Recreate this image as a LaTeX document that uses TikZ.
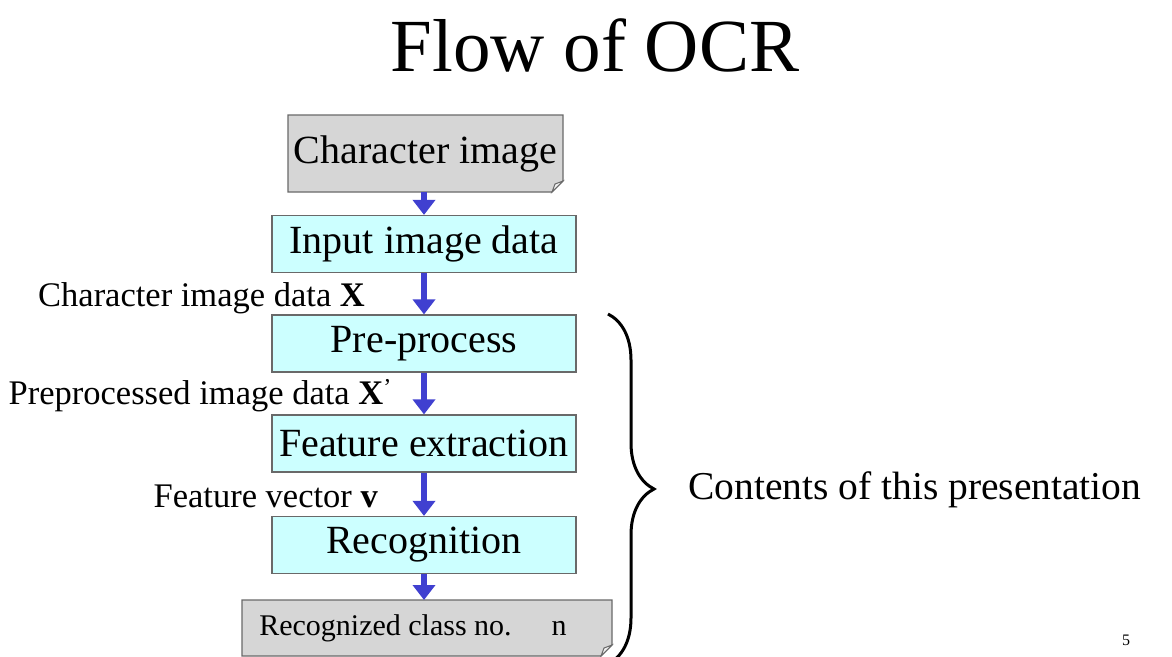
\documentclass[tikz,border=0pt]{standalone}
\usepackage{fontspec}
\setmainfont{Liberation Serif}
\usetikzlibrary{arrows.meta,decorations.pathreplacing}
\definecolor{boxcyan}{RGB}{204,255,255}
\definecolor{docgray}{RGB}{214,214,214}
\definecolor{foldgray}{RGB}{240,240,240}
\definecolor{arrowblue}{RGB}{64,64,208}
\definecolor{edgegray}{RGB}{105,105,105}
\tikzset{
  stage/.style={draw=edgegray, fill=boxcyan, line width=1.2pt, minimum width=304pt,
    minimum height=57pt, inner sep=0pt, font=\fontsize{40}{44}\selectfont},
  doctext/.style={inner sep=0pt, font=\fontsize{40}{44}\selectfont},
  datalabel/.style={anchor=east, inner sep=0pt, font=\fontsize{34.5}{38}\selectfont},
  flowarrow/.style={draw=arrowblue, line width=6pt, -{Triangle[width=22pt,length=15pt]}}
}
\begin{document}
\begin{tikzpicture}[x=1pt,y=-1pt]
    \useasboundingbox (0,0) rectangle (1172,656);
    \node (title) at (595,45) {\fontsize{75}{80}\selectfont Flow of OCR};
    % documents with folded corner
    \filldraw[fill=docgray, draw=edgegray, line width=1.2pt]
        (288,115) -- (563,115) -- (563,181) -- (552,192) -- (288,192) -- cycle;
    \filldraw[fill=foldgray, draw=edgegray, line width=1pt] (552,192) -- (555,184) -- (563,181) -- cycle;
    \node[doctext, minimum width=275pt, minimum height=77pt] (charimg) at (425.5,153.5) {Character image};
    \filldraw[fill=docgray, draw=edgegray, line width=1.2pt]
        (242,600) -- (612,600) -- (612,645) -- (601,656) -- (242,656) -- cycle;
    \filldraw[fill=foldgray, draw=edgegray, line width=1pt] (601,656) -- (604,648) -- (612,645) -- cycle;
    \node[doctext, minimum height=56pt, font=\fontsize{30}{36}\selectfont] (result) at (413,628)
        {Recognized class no.\hspace{40pt}n};
    % processing stages
    \node[stage] (input) at (424,244) {Input image data};
    \node[stage] (pre) at (424,343.5) {Pre-process};
    \node[stage] (feat) at (424,443.5) {Feature extraction};
    \node[stage] (recog) at (424,545) {Recognition};
    \draw[flowarrow] (charimg.south -| input) -- (input);
    \draw[flowarrow] (input) -- (pre);
    \draw[flowarrow] (pre) -- (feat);
    \draw[flowarrow] (feat) -- (recog);
    \draw[flowarrow] (recog) -- (recog |- 600,600);
    \node[datalabel] (lblx) at (365,298) {Character image data \textbf{X}};
    \node[datalabel] (lblxp) at (392,396) {Preprocessed image data \textbf{X}\textsuperscript{'}};
    \node[datalabel] (lblv) at (378,496) {Feature vector \textbf{v}};
    % brace
    \draw[decorate, decoration={brace, amplitude=46pt}, line width=3pt] (608,314) -- (608,664);
    \node[anchor=west, inner sep=0pt, font=\fontsize{39.5}{44}\selectfont] (contents) at (688,490) {Contents of this presentation};
    \node[font=\fontsize{16}{18}\selectfont] (pageno) at (1126,640) {5};
\end{tikzpicture}
\end{document}
